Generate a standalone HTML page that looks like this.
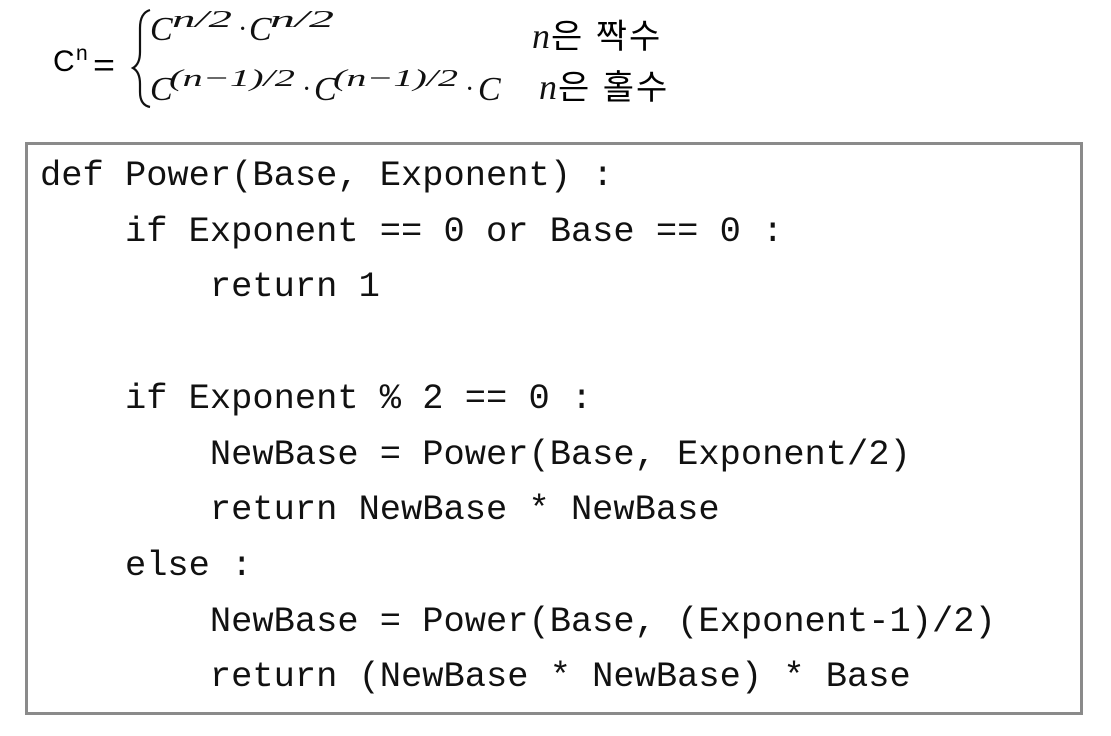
<!DOCTYPE html>
<html><head><meta charset="utf-8"><style>
body{margin:0;width:1111px;height:736px;background:#fff;position:relative;overflow:hidden;font-family:"Liberation Sans","Noto Sans CJK KR",sans-serif;}
.box{position:absolute;left:25px;top:142px;width:1052px;height:567px;border:3px solid #8a8a8a;}
pre{position:absolute;left:40px;top:149px;margin:0;font-family:"Liberation Mono",monospace;font-size:35.4px;line-height:55.7px;color:#111;}
</style></head><body>
<svg width="1111" height="140" style="position:absolute;left:0;top:0" font-family="Liberation Serif, serif">
<text x="53" y="71" font-family="Liberation Sans, sans-serif" font-size="30">C</text>
<text x="76" y="60" font-family="Liberation Sans, sans-serif" font-size="21">n</text>
<text x="93" y="76" font-family="Liberation Sans, sans-serif" font-size="32" textLength="22" lengthAdjust="spacingAndGlyphs">=</text>
<path d="M150 10 Q140 13 140 28 L140 52 Q140 64 133 68 Q140 72 140 84 L140 92 Q140 105 150 107" fill="none" stroke="#111" stroke-width="2.2"/>
<g font-style="italic" fill="#111">
<text x="150" y="40" font-size="34">C</text>
<text x="172" y="27" font-size="24" textLength="60" lengthAdjust="spacingAndGlyphs">n/2</text>
<text x="238" y="38" font-size="28" font-style="normal">·</text>
<text x="249" y="40" font-size="34">C</text>
<text x="270" y="27" font-size="24" textLength="64" lengthAdjust="spacingAndGlyphs">n/2</text>
<text x="150" y="100" font-size="34">C</text>
<text x="169" y="86" font-size="24" textLength="126" lengthAdjust="spacingAndGlyphs">(n−1)/2</text>
<text x="302" y="98" font-size="28" font-style="normal">·</text>
<text x="314" y="100" font-size="34">C</text>
<text x="333" y="86" font-size="24" textLength="125" lengthAdjust="spacingAndGlyphs">(n−1)/2</text>
<text x="465" y="98" font-size="28" font-style="normal">·</text>
<text x="478" y="100" font-size="34">C</text>
<text x="532" y="48" font-size="36">n</text>
<text x="539" y="99" font-size="36">n</text>
</g>
<text x="551" y="48" font-size="34" letter-spacing="2" font-family="Liberation Sans, Noto Sans CJK KR, sans-serif">은 짝수</text>
<text x="558" y="99" font-size="34" letter-spacing="2" font-family="Liberation Sans, Noto Sans CJK KR, sans-serif">은 홀수</text>
</svg>
<div class="box"></div>
<pre>def Power(Base, Exponent) :
    if Exponent == 0 or Base == 0 :
        return 1

    if Exponent % 2 == 0 :
        NewBase = Power(Base, Exponent/2)
        return NewBase * NewBase
    else :
        NewBase = Power(Base, (Exponent-1)/2)
        return (NewBase * NewBase) * Base</pre>
</body></html>
